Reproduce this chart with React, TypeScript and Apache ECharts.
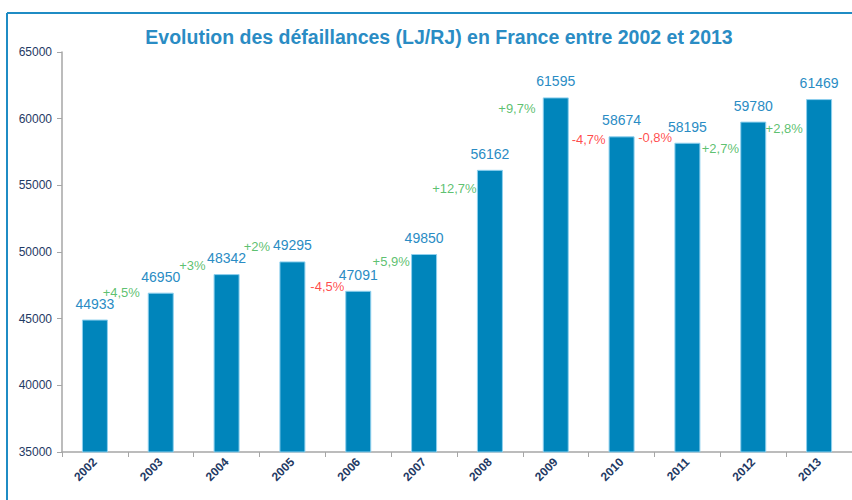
import React, { useEffect, useRef } from "react";
import * as echarts from "echarts";

const years = ["2002", "2003", "2004", "2005", "2006", "2007", "2008", "2009", "2010", "2011", "2012", "2013"];
const failures = [44933, 46950, 48342, 49295, 47091, 49850, 56162, 61595, 58674, 58195, 59780, 61469];
const changeLabels = ["+4,5%", "+3%", "+2%", "-4,5%", "+5,9%", "+12,7%", "+9,7%", "-4,7%", "-0,8%", "+2,7%", "+2,8%"];
// positions of the change labels in data space (x in category units from the axis start, y in axis values)
const changeX = [0.9, 1.98, 2.96, 4.03, 5.0, 5.96, 6.91, 8.0, 9.01, 10.0, 10.97];
const changeY = [47000, 49025, 50450, 47450, 49325, 54800, 60800, 58475, 58625, 57800, 59300];
const yTicks = { min: 35000, max: 65000, interval: 5000 };

const TITLE = "Evolution des défaillances (LJ/RJ) en France entre 2002 et 2013";

export default function App() {
  const ref = useRef<HTMLDivElement>(null);
  useEffect(() => {
    if (!ref.current) return;
    const chart = echarts.init(ref.current, null, { renderer: "svg" });
    const font = "'Liberation Sans', Arial, sans-serif";
    chart.setOption({
      animation: false,
      backgroundColor: "#ffffff",
      textStyle: { fontFamily: font },
      title: {
        text: TITLE,
        left: 434,
        top: 22,
        textAlign: "center",
        textStyle: { color: "#2a8cc4", fontSize: 19.5, fontWeight: "bold", fontFamily: font },
      },
      graphic: [
        { type: "line", shape: { x1: 7, y1: 13, x2: 852, y2: 13 }, style: { stroke: "#1f8cc4", lineWidth: 2 } },
        { type: "line", shape: { x1: 7, y1: 13, x2: 7, y2: 500 }, style: { stroke: "#1f8cc4", lineWidth: 2 } },
      ],
      grid: { left: 62, top: 52, width: 797, height: 400, containLabel: false },
      xAxis: [
        {
          type: "category",
          data: years,
          axisLine: { lineStyle: { color: "#a6a6a6", width: 1.5 } },
          axisTick: { show: true, length: 5, lineStyle: { color: "#a6a6a6" } },
          axisLabel: {
            rotate: 45,
            color: "#1f3a64",
            fontWeight: "bold",
            fontSize: 12,
            margin: 8,
            fontFamily: font,
          },
        },
        { type: "value", min: 0, max: 12, show: false },
      ],
      yAxis: {
        type: "value",
        min: yTicks.min,
        max: yTicks.max,
        interval: yTicks.interval,
        splitLine: { show: false },
        axisLine: { show: true, lineStyle: { color: "#a6a6a6", width: 1.5 } },
        axisTick: { show: true, length: 5, lineStyle: { color: "#a6a6a6" } },
        axisLabel: {
          color: "#1f3a64",
          fontSize: 12,
          margin: 10,
          fontFamily: font,
          formatter: (v: number) => String(v),
        },
      },
      series: [
        {
          type: "bar",
          data: failures,
          barWidth: 26,
          itemStyle: { color: "#0085bb", borderColor: "#8fd0ee", borderWidth: 1 },
          label: {
            show: true,
            position: "top",
            distance: 9,
            color: "#2a8cc4",
            fontSize: 14,
            fontFamily: font,
          },
        },
        {
          type: "scatter",
          xAxisIndex: 1,
          yAxisIndex: 0,
          symbolSize: 1,
          itemStyle: { color: "rgba(0,0,0,0)" },
          silent: true,
          data: changeLabels.map((t, i) => ({
            value: [changeX[i], changeY[i]],
            name: t,
            label: { color: t.startsWith("-") ? "#ff1a1a" : "#33b04a" },
          })),
          label: {
            show: true,
            position: "inside",
            formatter: (p: any) => p.name,
            fontSize: 13,
            fontFamily: font,
          },
        },
      ],
    });
    return () => chart.dispose();
  }, []);
  return (
    <div
      ref={ref}
      style={{ position: "fixed", left: 0, top: 0, width: 852, height: 500 }}
    />
  );
}
